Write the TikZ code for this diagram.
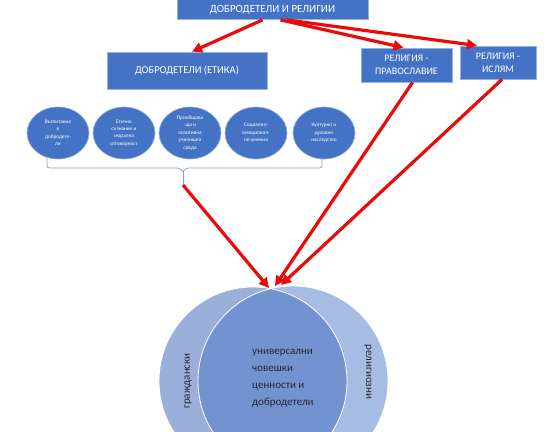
\documentclass[tikz,border=0pt]{standalone}
\usepackage{fontspec}
\setmainfont{Carlito}
\usetikzlibrary{shapes.geometric,arrows.meta}
\definecolor{boxblue}{RGB}{68,114,196}
\definecolor{boxedge}{RGB}{150,178,222}
\definecolor{arrowred}{RGB}{235,10,10}
\definecolor{braceline}{RGB}{140,160,192}
\definecolor{venleft}{RGB}{154,176,218}
\definecolor{venright}{RGB}{166,188,226}
\definecolor{venmid}{RGB}{114,146,208}
\definecolor{ventext}{RGB}{40,40,52}
\tikzset{
  bluebox/.style={draw=boxedge, line width=0.8pt, fill=boxblue, text=white, align=center, inner sep=1pt},
  virtue/.style={ellipse, draw=boxedge, line width=0.6pt, fill=boxblue, text=white, align=center,
    minimum width=62pt, minimum height=52pt, inner sep=0pt, font=\fontsize{5.3}{7.4}\selectfont},
  redarrow/.style={draw=arrowred, line width=3.2pt, -{Triangle[length=10pt,width=10pt]}},
  bracketline/.style={draw=braceline, line width=0.8pt, rounded corners=2.5pt},
}
\begin{document}
\begin{tikzpicture}[x=1pt,y=-1pt]
\useasboundingbox (0,0) rectangle (559,431);
% boxes
\node[bluebox, minimum width=191pt, minimum height=20pt, font=\fontsize{11}{12}\selectfont] (top) at (272.5,9.5) {ДОБРОДЕТЕЛИ И РЕЛИГИИ};
\node[bluebox, minimum width=160pt, minimum height=37pt, font=\fontsize{10.5}{12}\selectfont] (ethics) at (187,70.5) {ДОБРОДЕТЕЛИ (ЕТИКА)};
\node[bluebox, minimum width=91pt, minimum height=34pt, font=\fontsize{10}{13}\selectfont] (orth) at (406.5,65) {РЕЛИГИЯ -\\ПРАВОСЛАВИЕ};
\node[bluebox, minimum width=76pt, minimum height=33pt, font=\fontsize{10}{13}\selectfont] (islam) at (498,62.5) {РЕЛИГИЯ -\\ИСЛЯМ};
% virtue circles
\node[virtue] (c1) at (58,133) {Възпитание\\в\\добродете-\\ли};
\node[virtue] (c2) at (124,133) {Етично\\съзнание и\\морална\\отговорност};
\node[virtue] (c3) at (190,133) {Приобщава\\-ща и\\позитивна\\училищна\\среда};
\node[virtue] (c4) at (256,133) {Социално-\\емоционал-\\ни умения};
\node[virtue] (c5) at (324,133) {Културно и\\духовно\\наследство};
% bracket
\coordinate (bl) at (47,158);
\coordinate (br) at (322,158);
\coordinate (tip) at (183,185);
\draw[bracketline] (bl) -- (47,168) -- (180,168) -- (183,172);
\draw[bracketline] (br) -- (322,168) -- (186,168) -- (183,172);
\draw[draw=braceline, line width=0.8pt] (183,171) -- (tip);
% venn
\coordinate (vl) at (253,381);
\coordinate (vr) at (293,381);
\fill[venleft] (vl) circle (94);
\fill[venright] (vr) circle (95);
\begin{scope}
  \clip (vl) circle (94);
  \fill[venmid] (vr) circle (95);
\end{scope}
\draw[white, line width=0.8pt] (vl) circle (94);
\draw[white, line width=0.8pt] (vr) circle (95);
\node[text=ventext, rotate=90, font=\fontsize{11}{13}\selectfont] (civ) at (188,381) {граждански};
\node[text=ventext, rotate=-90, font=\fontsize{11}{13}\selectfont] (rel) at (368,372) {религиозни};
\node[text=ventext, anchor=north west, align=left, inner sep=0pt, font=\fontsize{11}{17}\selectfont] (uni) at (252,349) {универсални\\човешки\\ценности и\\добродетели};
% arrow targets
\coordinate (m1) at (269,288);
\coordinate (m2) at (275,286);
\coordinate (m3) at (281,285);
% arrows
\draw[redarrow] ([xshift=-10]top.south) -- ([xshift=5]ethics.north);
\draw[redarrow] ([xshift=8]top.south) -- ([xshift=-3]orth.north);
\draw[redarrow] ([xshift=14]top.south) -- ([xshift=-21]islam.north);
\draw[redarrow] (tip) -- (m1);
\draw[redarrow] ([xshift=6]orth.south) -- (m2);
\draw[redarrow] ([xshift=4]islam.south) -- (m3);
\end{tikzpicture}
\end{document}
